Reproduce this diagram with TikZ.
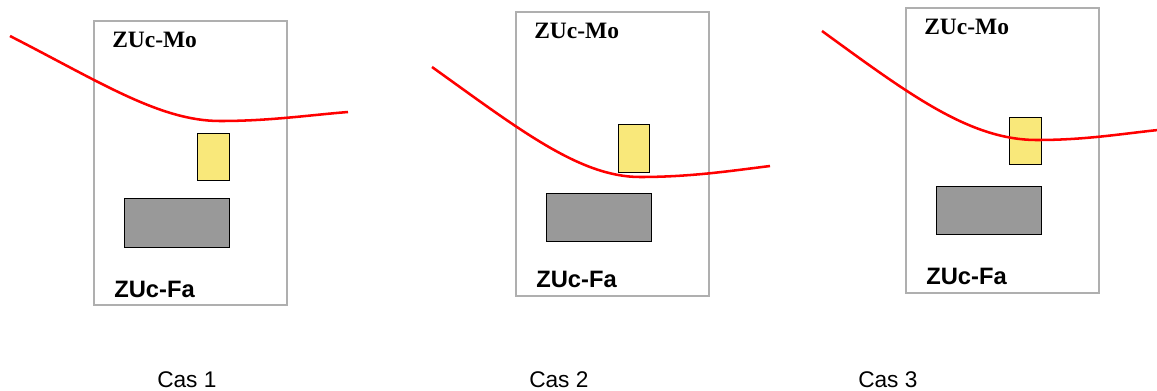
\documentclass[tikz,border=0pt]{standalone}
\usepackage{fontspec}
\setmainfont{Liberation Serif}
\newfontfamily\labsans{Liberation Sans}
\definecolor{frameg}{RGB}{175,175,175}
\definecolor{yel}{RGB}{249,232,122}
\definecolor{gry}{RGB}{153,153,153}
\tikzset{
  framebox/.style={draw=frameg, line width=0.9pt},
  yelbox/.style={draw=black, fill=yel, line width=0.7pt},
  grybox/.style={draw=black, fill=gry, line width=0.7pt},
  redline/.style={draw=red, line width=1.9pt},
  molab/.style={anchor=base west, inner sep=0pt, font=\fontsize{17.6}{20}\selectfont\bfseries},
  falab/.style={anchor=base west, inner sep=0pt, font=\labsans\fontsize{17.8}{20}\selectfont\bfseries},
  caslab/.style={anchor=base west, inner sep=0pt, font=\labsans\fontsize{17}{20}\selectfont}
}
\begin{document}
\begin{tikzpicture}[x=0.75pt, y=-0.75pt]
\useasboundingbox (0,0) rectangle (1157,390);
% Panel 1
\draw[framebox] (94,21) rectangle (287,305);
\draw[yelbox] (197,133) rectangle (229,180);
\draw[grybox] (124,198) rectangle (229,247);
\node[molab] (mo1) at (112,47) {ZUc-Mo};
\node[falab] (fa1) at (114,297) {ZUc-Fa};
\draw[redline] (10,36) .. controls (100,82) and (160,121) .. (220,121) .. controls (270,121) and (310,115) .. (348,112);
\node[caslab] (c1) at (157,387) {Cas 1};
% Panel 2
\draw[framebox] (516,12) rectangle (709,296);
\draw[yelbox] (618,124) rectangle (649,172);
\draw[grybox] (546,193) rectangle (651,241);
\node[molab] (mo2) at (534,38) {ZUc-Mo};
\node[falab] (fa2) at (536,287) {ZUc-Fa};
\draw[redline] (432,67) .. controls (520,130) and (580,177) .. (640,177) .. controls (690,177) and (730,171) .. (770,166);
\node[caslab] (c2) at (529,387) {Cas 2};
% Panel 3
\draw[framebox] (906,8) rectangle (1099,293);
\draw[yelbox] (1009,117) rectangle (1041,164);
\draw[grybox] (936,186) rectangle (1041,234);
\node[molab] (mo3) at (924,34) {ZUc-Mo};
\node[falab] (fa3) at (926,284) {ZUc-Fa};
\draw[redline] (822,31) .. controls (910,95) and (970,140) .. (1037,140) .. controls (1085,140) and (1120,134) .. (1158,130);
\node[caslab] (c3) at (858,387) {Cas 3};
\end{tikzpicture}
\end{document}
